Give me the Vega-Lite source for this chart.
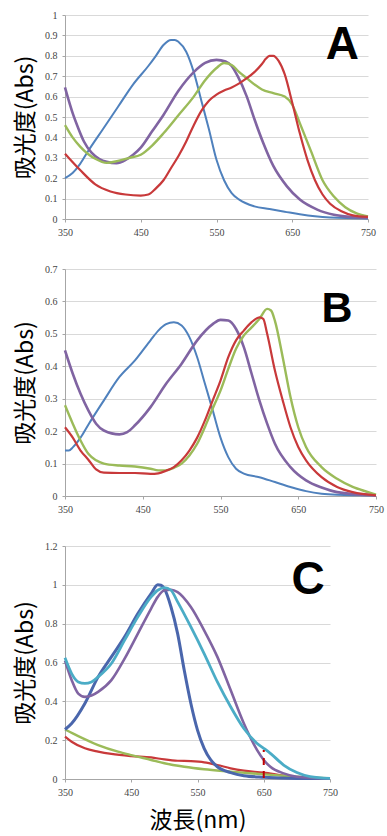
{
  "$schema": "https://vega.github.io/schema/vega-lite/v6.json",
  "background": "white",
  "padding": {"left": 14, "top": 10, "right": 5, "bottom": 5},
  "spacing": 50,
  "bounds": "flush",
  "config": {
    "view": {"stroke": null},
    "axis": {
      "domainColor": "#a6a6a6",
      "gridColor": "#d9d9d9",
      "tickColor": "#a6a6a6",
      "tickSize": 3,
      "labelPadding": 5,
      "labelFont": "Liberation Serif",
      "labelFontSize": 10,
      "labelColor": "#444444",
      "labelOverlap": false,
      "labelFlush": false,
      "titleFont": "Noto Sans CJK JP",
      "titleFontSize": 23,
      "titleFontWeight": "normal",
      "titleColor": "#000000"
    },
    "line": {"interpolate": "monotone"}
  },
  "datasets": {
    "a": [
      {"wl": 350, "abs": 0.2, "s": "blue"}, {"wl": 360, "abs": 0.225, "s": "blue"}, {"wl": 370, "abs": 0.27, "s": "blue"}, {"wl": 380, "abs": 0.33, "s": "blue"}, {"wl": 400, "abs": 0.44, "s": "blue"}, {"wl": 420, "abs": 0.55, "s": "blue"}, {"wl": 440, "abs": 0.66, "s": "blue"}, {"wl": 460, "abs": 0.75, "s": "blue"}, {"wl": 470, "abs": 0.8, "s": "blue"}, {"wl": 480, "abs": 0.853, "s": "blue"}, {"wl": 490, "abs": 0.878, "s": "blue"}, {"wl": 495, "abs": 0.878, "s": "blue"}, {"wl": 500, "abs": 0.868, "s": "blue"}, {"wl": 510, "abs": 0.82, "s": "blue"}, {"wl": 520, "abs": 0.72, "s": "blue"}, {"wl": 530, "abs": 0.58, "s": "blue"}, {"wl": 540, "abs": 0.44, "s": "blue"}, {"wl": 550, "abs": 0.29, "s": "blue"}, {"wl": 560, "abs": 0.19, "s": "blue"}, {"wl": 570, "abs": 0.127, "s": "blue"}, {"wl": 580, "abs": 0.095, "s": "blue"}, {"wl": 600, "abs": 0.062, "s": "blue"}, {"wl": 620, "abs": 0.049, "s": "blue"}, {"wl": 640, "abs": 0.036, "s": "blue"}, {"wl": 660, "abs": 0.023, "s": "blue"}, {"wl": 680, "abs": 0.013, "s": "blue"}, {"wl": 700, "abs": 0.007, "s": "blue"}, {"wl": 750, "abs": 0.002, "s": "blue"},
      {"wl": 350, "abs": 0.645, "s": "purple"}, {"wl": 355, "abs": 0.58, "s": "purple"}, {"wl": 360, "abs": 0.52, "s": "purple"}, {"wl": 367, "abs": 0.45, "s": "purple"}, {"wl": 375, "abs": 0.38, "s": "purple"}, {"wl": 385, "abs": 0.325, "s": "purple"}, {"wl": 395, "abs": 0.295, "s": "purple"}, {"wl": 405, "abs": 0.28, "s": "purple"}, {"wl": 418, "abs": 0.274, "s": "purple"}, {"wl": 430, "abs": 0.29, "s": "purple"}, {"wl": 440, "abs": 0.315, "s": "purple"}, {"wl": 450, "abs": 0.35, "s": "purple"}, {"wl": 465, "abs": 0.43, "s": "purple"}, {"wl": 480, "abs": 0.51, "s": "purple"}, {"wl": 500, "abs": 0.63, "s": "purple"}, {"wl": 520, "abs": 0.72, "s": "purple"}, {"wl": 535, "abs": 0.765, "s": "purple"}, {"wl": 550, "abs": 0.78, "s": "purple"}, {"wl": 562, "abs": 0.772, "s": "purple"}, {"wl": 570, "abs": 0.75, "s": "purple"}, {"wl": 578, "abs": 0.7, "s": "purple"}, {"wl": 590, "abs": 0.6, "s": "purple"}, {"wl": 600, "abs": 0.49, "s": "purple"}, {"wl": 612, "abs": 0.37, "s": "purple"}, {"wl": 625, "abs": 0.26, "s": "purple"}, {"wl": 643, "abs": 0.16, "s": "purple"}, {"wl": 660, "abs": 0.095, "s": "purple"}, {"wl": 683, "abs": 0.046, "s": "purple"}, {"wl": 705, "abs": 0.021, "s": "purple"}, {"wl": 727, "abs": 0.01, "s": "purple"}, {"wl": 750, "abs": 0.005, "s": "purple"},
      {"wl": 350, "abs": 0.46, "s": "green"}, {"wl": 360, "abs": 0.4, "s": "green"}, {"wl": 370, "abs": 0.355, "s": "green"}, {"wl": 380, "abs": 0.32, "s": "green"}, {"wl": 390, "abs": 0.295, "s": "green"}, {"wl": 405, "abs": 0.275, "s": "green"}, {"wl": 420, "abs": 0.285, "s": "green"}, {"wl": 435, "abs": 0.3, "s": "green"}, {"wl": 450, "abs": 0.315, "s": "green"}, {"wl": 465, "abs": 0.36, "s": "green"}, {"wl": 480, "abs": 0.42, "s": "green"}, {"wl": 500, "abs": 0.51, "s": "green"}, {"wl": 520, "abs": 0.6, "s": "green"}, {"wl": 535, "abs": 0.68, "s": "green"}, {"wl": 550, "abs": 0.74, "s": "green"}, {"wl": 560, "abs": 0.765, "s": "green"}, {"wl": 570, "abs": 0.755, "s": "green"}, {"wl": 580, "abs": 0.72, "s": "green"}, {"wl": 590, "abs": 0.69, "s": "green"}, {"wl": 600, "abs": 0.66, "s": "green"}, {"wl": 610, "abs": 0.635, "s": "green"}, {"wl": 625, "abs": 0.617, "s": "green"}, {"wl": 640, "abs": 0.6, "s": "green"}, {"wl": 650, "abs": 0.56, "s": "green"}, {"wl": 660, "abs": 0.47, "s": "green"}, {"wl": 675, "abs": 0.33, "s": "green"}, {"wl": 690, "abs": 0.19, "s": "green"}, {"wl": 705, "abs": 0.11, "s": "green"}, {"wl": 720, "abs": 0.058, "s": "green"}, {"wl": 735, "abs": 0.028, "s": "green"}, {"wl": 750, "abs": 0.013, "s": "green"},
      {"wl": 350, "abs": 0.32, "s": "red"}, {"wl": 370, "abs": 0.24, "s": "red"}, {"wl": 390, "abs": 0.17, "s": "red"}, {"wl": 410, "abs": 0.135, "s": "red"}, {"wl": 430, "abs": 0.12, "s": "red"}, {"wl": 450, "abs": 0.115, "s": "red"}, {"wl": 460, "abs": 0.12, "s": "red"}, {"wl": 470, "abs": 0.15, "s": "red"}, {"wl": 480, "abs": 0.19, "s": "red"}, {"wl": 490, "abs": 0.25, "s": "red"}, {"wl": 500, "abs": 0.31, "s": "red"}, {"wl": 510, "abs": 0.38, "s": "red"}, {"wl": 520, "abs": 0.46, "s": "red"}, {"wl": 530, "abs": 0.53, "s": "red"}, {"wl": 540, "abs": 0.58, "s": "red"}, {"wl": 550, "abs": 0.61, "s": "red"}, {"wl": 560, "abs": 0.63, "s": "red"}, {"wl": 570, "abs": 0.645, "s": "red"}, {"wl": 580, "abs": 0.665, "s": "red"}, {"wl": 590, "abs": 0.69, "s": "red"}, {"wl": 600, "abs": 0.72, "s": "red"}, {"wl": 610, "abs": 0.76, "s": "red"}, {"wl": 615, "abs": 0.785, "s": "red"}, {"wl": 620, "abs": 0.8, "s": "red"}, {"wl": 625, "abs": 0.8, "s": "red"}, {"wl": 632, "abs": 0.775, "s": "red"}, {"wl": 640, "abs": 0.71, "s": "red"}, {"wl": 650, "abs": 0.57, "s": "red"}, {"wl": 660, "abs": 0.42, "s": "red"}, {"wl": 670, "abs": 0.29, "s": "red"}, {"wl": 680, "abs": 0.19, "s": "red"}, {"wl": 690, "abs": 0.12, "s": "red"}, {"wl": 700, "abs": 0.075, "s": "red"}, {"wl": 715, "abs": 0.038, "s": "red"}, {"wl": 730, "abs": 0.018, "s": "red"}, {"wl": 750, "abs": 0.01, "s": "red"}
    ],
    "b": [
      {"wl": 350, "abs": 0.14, "s": "blue"}, {"wl": 355, "abs": 0.14, "s": "blue"}, {"wl": 360, "abs": 0.15, "s": "blue"}, {"wl": 370, "abs": 0.18, "s": "blue"}, {"wl": 380, "abs": 0.22, "s": "blue"}, {"wl": 400, "abs": 0.295, "s": "blue"}, {"wl": 420, "abs": 0.367, "s": "blue"}, {"wl": 440, "abs": 0.418, "s": "blue"}, {"wl": 460, "abs": 0.48, "s": "blue"}, {"wl": 470, "abs": 0.51, "s": "blue"}, {"wl": 480, "abs": 0.53, "s": "blue"}, {"wl": 490, "abs": 0.536, "s": "blue"}, {"wl": 500, "abs": 0.526, "s": "blue"}, {"wl": 510, "abs": 0.49, "s": "blue"}, {"wl": 520, "abs": 0.428, "s": "blue"}, {"wl": 530, "abs": 0.346, "s": "blue"}, {"wl": 540, "abs": 0.264, "s": "blue"}, {"wl": 550, "abs": 0.18, "s": "blue"}, {"wl": 560, "abs": 0.12, "s": "blue"}, {"wl": 570, "abs": 0.084, "s": "blue"}, {"wl": 580, "abs": 0.069, "s": "blue"}, {"wl": 600, "abs": 0.058, "s": "blue"}, {"wl": 620, "abs": 0.043, "s": "blue"}, {"wl": 640, "abs": 0.028, "s": "blue"}, {"wl": 660, "abs": 0.015, "s": "blue"}, {"wl": 680, "abs": 0.007, "s": "blue"}, {"wl": 700, "abs": 0.004, "s": "blue"}, {"wl": 750, "abs": 0.002, "s": "blue"},
      {"wl": 350, "abs": 0.449, "s": "purple"}, {"wl": 360, "abs": 0.377, "s": "purple"}, {"wl": 370, "abs": 0.315, "s": "purple"}, {"wl": 380, "abs": 0.264, "s": "purple"}, {"wl": 390, "abs": 0.223, "s": "purple"}, {"wl": 400, "abs": 0.202, "s": "purple"}, {"wl": 420, "abs": 0.19, "s": "purple"}, {"wl": 430, "abs": 0.197, "s": "purple"}, {"wl": 440, "abs": 0.218, "s": "purple"}, {"wl": 460, "abs": 0.274, "s": "purple"}, {"wl": 480, "abs": 0.346, "s": "purple"}, {"wl": 500, "abs": 0.408, "s": "purple"}, {"wl": 520, "abs": 0.48, "s": "purple"}, {"wl": 540, "abs": 0.53, "s": "purple"}, {"wl": 550, "abs": 0.543, "s": "purple"}, {"wl": 560, "abs": 0.541, "s": "purple"}, {"wl": 570, "abs": 0.515, "s": "purple"}, {"wl": 580, "abs": 0.459, "s": "purple"}, {"wl": 590, "abs": 0.377, "s": "purple"}, {"wl": 600, "abs": 0.295, "s": "purple"}, {"wl": 610, "abs": 0.223, "s": "purple"}, {"wl": 620, "abs": 0.161, "s": "purple"}, {"wl": 640, "abs": 0.089, "s": "purple"}, {"wl": 660, "abs": 0.048, "s": "purple"}, {"wl": 680, "abs": 0.026, "s": "purple"}, {"wl": 700, "abs": 0.012, "s": "purple"}, {"wl": 750, "abs": 0.002, "s": "purple"},
      {"wl": 350, "abs": 0.28, "s": "green"}, {"wl": 360, "abs": 0.223, "s": "green"}, {"wl": 370, "abs": 0.171, "s": "green"}, {"wl": 380, "abs": 0.13, "s": "green"}, {"wl": 390, "abs": 0.11, "s": "green"}, {"wl": 400, "abs": 0.1, "s": "green"}, {"wl": 420, "abs": 0.094, "s": "green"}, {"wl": 440, "abs": 0.091, "s": "green"}, {"wl": 460, "abs": 0.084, "s": "green"}, {"wl": 470, "abs": 0.079, "s": "green"}, {"wl": 480, "abs": 0.079, "s": "green"}, {"wl": 490, "abs": 0.087, "s": "green"}, {"wl": 500, "abs": 0.1, "s": "green"}, {"wl": 510, "abs": 0.125, "s": "green"}, {"wl": 520, "abs": 0.161, "s": "green"}, {"wl": 530, "abs": 0.213, "s": "green"}, {"wl": 540, "abs": 0.27, "s": "green"}, {"wl": 550, "abs": 0.325, "s": "green"}, {"wl": 560, "abs": 0.392, "s": "green"}, {"wl": 570, "abs": 0.454, "s": "green"}, {"wl": 580, "abs": 0.495, "s": "green"}, {"wl": 590, "abs": 0.52, "s": "green"}, {"wl": 600, "abs": 0.546, "s": "green"}, {"wl": 610, "abs": 0.577, "s": "green"}, {"wl": 615, "abs": 0.572, "s": "green"}, {"wl": 620, "abs": 0.54, "s": "green"}, {"wl": 630, "abs": 0.428, "s": "green"}, {"wl": 640, "abs": 0.305, "s": "green"}, {"wl": 650, "abs": 0.212, "s": "green"}, {"wl": 660, "abs": 0.151, "s": "green"}, {"wl": 680, "abs": 0.089, "s": "green"}, {"wl": 700, "abs": 0.053, "s": "green"}, {"wl": 720, "abs": 0.028, "s": "green"}, {"wl": 740, "abs": 0.012, "s": "green"}, {"wl": 750, "abs": 0.004, "s": "green"},
      {"wl": 350, "abs": 0.212, "s": "red"}, {"wl": 360, "abs": 0.18, "s": "red"}, {"wl": 370, "abs": 0.14, "s": "red"}, {"wl": 380, "abs": 0.112, "s": "red"}, {"wl": 390, "abs": 0.082, "s": "red"}, {"wl": 400, "abs": 0.072, "s": "red"}, {"wl": 420, "abs": 0.071, "s": "red"}, {"wl": 440, "abs": 0.071, "s": "red"}, {"wl": 460, "abs": 0.068, "s": "red"}, {"wl": 470, "abs": 0.07, "s": "red"}, {"wl": 480, "abs": 0.078, "s": "red"}, {"wl": 490, "abs": 0.089, "s": "red"}, {"wl": 500, "abs": 0.11, "s": "red"}, {"wl": 510, "abs": 0.14, "s": "red"}, {"wl": 520, "abs": 0.18, "s": "red"}, {"wl": 530, "abs": 0.233, "s": "red"}, {"wl": 540, "abs": 0.295, "s": "red"}, {"wl": 550, "abs": 0.356, "s": "red"}, {"wl": 560, "abs": 0.428, "s": "red"}, {"wl": 570, "abs": 0.48, "s": "red"}, {"wl": 580, "abs": 0.51, "s": "red"}, {"wl": 590, "abs": 0.536, "s": "red"}, {"wl": 600, "abs": 0.551, "s": "red"}, {"wl": 605, "abs": 0.546, "s": "red"}, {"wl": 610, "abs": 0.5, "s": "red"}, {"wl": 620, "abs": 0.387, "s": "red"}, {"wl": 630, "abs": 0.295, "s": "red"}, {"wl": 640, "abs": 0.212, "s": "red"}, {"wl": 650, "abs": 0.151, "s": "red"}, {"wl": 660, "abs": 0.11, "s": "red"}, {"wl": 680, "abs": 0.058, "s": "red"}, {"wl": 700, "abs": 0.028, "s": "red"}, {"wl": 720, "abs": 0.012, "s": "red"}, {"wl": 750, "abs": 0.002, "s": "red"}
    ],
    "c": [
      {"wl": 350, "abs": 0.218, "s": "red"}, {"wl": 360, "abs": 0.192, "s": "red"}, {"wl": 380, "abs": 0.158, "s": "red"}, {"wl": 400, "abs": 0.141, "s": "red"}, {"wl": 420, "abs": 0.129, "s": "red"}, {"wl": 450, "abs": 0.118, "s": "red"}, {"wl": 480, "abs": 0.111, "s": "red"}, {"wl": 500, "abs": 0.101, "s": "red"}, {"wl": 520, "abs": 0.094, "s": "red"}, {"wl": 540, "abs": 0.092, "s": "red"}, {"wl": 560, "abs": 0.086, "s": "red"}, {"wl": 580, "abs": 0.072, "s": "red"}, {"wl": 600, "abs": 0.055, "s": "red"}, {"wl": 620, "abs": 0.043, "s": "red"}, {"wl": 650, "abs": 0.033, "s": "red"}, {"wl": 680, "abs": 0.017, "s": "red"}, {"wl": 700, "abs": 0.009, "s": "red"}, {"wl": 750, "abs": 0.003, "s": "red"},
      {"wl": 350, "abs": 0.255, "s": "green"}, {"wl": 370, "abs": 0.221, "s": "green"}, {"wl": 400, "abs": 0.175, "s": "green"}, {"wl": 430, "abs": 0.141, "s": "green"}, {"wl": 450, "abs": 0.123, "s": "green"}, {"wl": 480, "abs": 0.098, "s": "green"}, {"wl": 500, "abs": 0.081, "s": "green"}, {"wl": 530, "abs": 0.063, "s": "green"}, {"wl": 560, "abs": 0.05, "s": "green"}, {"wl": 600, "abs": 0.038, "s": "green"}, {"wl": 650, "abs": 0.024, "s": "green"}, {"wl": 700, "abs": 0.012, "s": "green"}, {"wl": 750, "abs": 0.003, "s": "green"},
      {"wl": 350, "abs": 0.255, "s": "navy"}, {"wl": 360, "abs": 0.286, "s": "navy"}, {"wl": 380, "abs": 0.389, "s": "navy"}, {"wl": 400, "abs": 0.526, "s": "navy"}, {"wl": 420, "abs": 0.629, "s": "navy"}, {"wl": 440, "abs": 0.732, "s": "navy"}, {"wl": 460, "abs": 0.852, "s": "navy"}, {"wl": 480, "abs": 0.955, "s": "navy"}, {"wl": 490, "abs": 1.0, "s": "navy"}, {"wl": 495, "abs": 0.998, "s": "navy"}, {"wl": 500, "abs": 0.98, "s": "navy"}, {"wl": 510, "abs": 0.886, "s": "navy"}, {"wl": 520, "abs": 0.749, "s": "navy"}, {"wl": 530, "abs": 0.56, "s": "navy"}, {"wl": 540, "abs": 0.389, "s": "navy"}, {"wl": 550, "abs": 0.252, "s": "navy"}, {"wl": 560, "abs": 0.158, "s": "navy"}, {"wl": 570, "abs": 0.098, "s": "navy"}, {"wl": 580, "abs": 0.063, "s": "navy"}, {"wl": 600, "abs": 0.033, "s": "navy"}, {"wl": 620, "abs": 0.017, "s": "navy"}, {"wl": 650, "abs": 0.009, "s": "navy"}, {"wl": 700, "abs": 0.003, "s": "navy"}, {"wl": 750, "abs": 0.002, "s": "navy"},
      {"wl": 350, "abs": 0.61, "s": "purple"}, {"wl": 360, "abs": 0.51, "s": "purple"}, {"wl": 370, "abs": 0.44, "s": "purple"}, {"wl": 380, "abs": 0.423, "s": "purple"}, {"wl": 390, "abs": 0.43, "s": "purple"}, {"wl": 400, "abs": 0.449, "s": "purple"}, {"wl": 420, "abs": 0.509, "s": "purple"}, {"wl": 440, "abs": 0.62, "s": "purple"}, {"wl": 460, "abs": 0.749, "s": "purple"}, {"wl": 480, "abs": 0.878, "s": "purple"}, {"wl": 490, "abs": 0.938, "s": "purple"}, {"wl": 500, "abs": 0.972, "s": "purple"}, {"wl": 510, "abs": 0.975, "s": "purple"}, {"wl": 520, "abs": 0.963, "s": "purple"}, {"wl": 540, "abs": 0.886, "s": "purple"}, {"wl": 560, "abs": 0.766, "s": "purple"}, {"wl": 580, "abs": 0.629, "s": "purple"}, {"wl": 600, "abs": 0.458, "s": "purple"}, {"wl": 620, "abs": 0.286, "s": "purple"}, {"wl": 640, "abs": 0.149, "s": "purple"}, {"wl": 650, "abs": 0.098, "s": "purple"}, {"wl": 660, "abs": 0.063, "s": "purple"}, {"wl": 680, "abs": 0.029, "s": "purple"}, {"wl": 700, "abs": 0.012, "s": "purple"}, {"wl": 750, "abs": 0.003, "s": "purple"},
      {"wl": 350, "abs": 0.624, "s": "cyan"}, {"wl": 360, "abs": 0.543, "s": "cyan"}, {"wl": 370, "abs": 0.5, "s": "cyan"}, {"wl": 380, "abs": 0.492, "s": "cyan"}, {"wl": 390, "abs": 0.5, "s": "cyan"}, {"wl": 400, "abs": 0.526, "s": "cyan"}, {"wl": 420, "abs": 0.595, "s": "cyan"}, {"wl": 440, "abs": 0.715, "s": "cyan"}, {"wl": 460, "abs": 0.835, "s": "cyan"}, {"wl": 480, "abs": 0.938, "s": "cyan"}, {"wl": 490, "abs": 0.972, "s": "cyan"}, {"wl": 500, "abs": 0.986, "s": "cyan"}, {"wl": 510, "abs": 0.972, "s": "cyan"}, {"wl": 520, "abs": 0.912, "s": "cyan"}, {"wl": 540, "abs": 0.783, "s": "cyan"}, {"wl": 560, "abs": 0.646, "s": "cyan"}, {"wl": 580, "abs": 0.5, "s": "cyan"}, {"wl": 600, "abs": 0.372, "s": "cyan"}, {"wl": 620, "abs": 0.26, "s": "cyan"}, {"wl": 640, "abs": 0.183, "s": "cyan"}, {"wl": 650, "abs": 0.158, "s": "cyan"}, {"wl": 660, "abs": 0.132, "s": "cyan"}, {"wl": 680, "abs": 0.072, "s": "cyan"}, {"wl": 700, "abs": 0.033, "s": "cyan"}, {"wl": 720, "abs": 0.012, "s": "cyan"}, {"wl": 750, "abs": 0.003, "s": "cyan"}
    ],
    "marker": [{"wl": 650, "abs": 0.005, "hi": 0.15}]
  },
  "vconcat": [
    {
      "width": 303,
      "height": 204,
      "encoding": {
        "x": {"field": "wl", "type": "quantitative", "scale": {"domain": [350, 750], "nice": false, "zero": false}, "axis": {"title": null, "grid": false, "values": [350, 450, 550, 650, 750]}},
        "y": {"field": "abs", "type": "quantitative", "scale": {"domain": [0, 1], "nice": false}, "axis": {"title": "吸光度(Abs)", "values": [0, 0.1, 0.2, 0.3, 0.4, 0.5, 0.6, 0.7, 0.8, 0.9, 1], "format": ".1~f", "titlePadding": 7}}
      },
      "layer": [
        {
          "data": {"name": "a"},
          "mark": {"type": "line"},
          "encoding": {
            "color": {"field": "s", "type": "nominal", "legend": null, "scale": {"domain": ["blue", "red", "green", "purple", "cyan", "navy"], "range": ["#4F81BD", "#C8393A", "#9BBB59", "#8064A2", "#4BACC6", "#4A66AC"]}},
            "strokeWidth": {"field": "s", "type": "nominal", "legend": null, "scale": {"domain": ["blue", "red", "green", "purple", "cyan", "navy"], "range": [2, 3, 2, 2, 2, 2]}}
          }
        },
        {
          "data": {"values": [{"wl": 716, "abs": 0.853, "t": "A"}]},
          "mark": {"type": "text", "font": "Liberation Sans", "fontWeight": "bold", "fontSize": 46, "baseline": "middle", "align": "center", "color": "#000000"},
          "encoding": {"text": {"field": "t"}}
        }
      ]
    },
    {
      "width": 311,
      "height": 227,
      "encoding": {
        "x": {"field": "wl", "type": "quantitative", "scale": {"domain": [350, 750], "nice": false, "zero": false}, "axis": {"title": null, "grid": false, "values": [350, 450, 550, 650, 750]}},
        "y": {"field": "abs", "type": "quantitative", "scale": {"domain": [0, 0.7], "nice": false}, "axis": {"title": "吸光度(Abs)", "values": [0, 0.1, 0.2, 0.3, 0.4, 0.5, 0.6, 0.7], "format": ".1~f", "titlePadding": 7}}
      },
      "layer": [
        {
          "data": {"name": "b"},
          "mark": {"type": "line"},
          "encoding": {
            "color": {"field": "s", "type": "nominal", "legend": null, "scale": {"domain": ["blue", "red", "green", "purple", "cyan", "navy"], "range": ["#4F81BD", "#C8393A", "#9BBB59", "#8064A2", "#4BACC6", "#4A66AC"]}},
            "strokeWidth": {"field": "s", "type": "nominal", "legend": null, "scale": {"domain": ["blue", "red", "green", "purple", "cyan", "navy"], "range": [2, 3, 2, 2, 2, 2]}}
          }
        },
        {
          "data": {"values": [{"wl": 700, "abs": 0.577, "t": "B"}]},
          "mark": {"type": "text", "font": "Liberation Sans", "fontWeight": "bold", "fontSize": 43, "baseline": "middle", "align": "center", "color": "#000000"},
          "encoding": {"text": {"field": "t"}}
        }
      ]
    },
    {
      "width": 265,
      "height": 233,
      "encoding": {
        "x": {"field": "wl", "type": "quantitative", "scale": {"domain": [350, 750], "nice": false, "zero": false}, "axis": {"title": "波長(nm)", "titlePadding": 12, "grid": false, "values": [350, 450, 550, 650, 750]}},
        "y": {"field": "abs", "type": "quantitative", "scale": {"domain": [0, 1.2], "nice": false}, "axis": {"title": "吸光度(Abs)", "values": [0, 0.2, 0.4, 0.6, 0.8, 1, 1.2], "format": ".1~f", "titlePadding": 7}}
      },
      "layer": [
        {
          "data": {"name": "c"},
          "mark": {"type": "line"},
          "encoding": {
            "color": {"field": "s", "type": "nominal", "legend": null, "scale": {"domain": ["blue", "red", "green", "purple", "cyan", "navy"], "range": ["#4F81BD", "#C8393A", "#9BBB59", "#8064A2", "#4BACC6", "#4A66AC"]}},
            "strokeWidth": {"field": "s", "type": "nominal", "legend": null, "scale": {"domain": ["blue", "red", "green", "purple", "cyan", "navy"], "range": [2, 3, 2, 2, 2, 2]}}
          }
        },
        {
          "data": {"name": "marker"},
          "mark": {"type": "rule", "color": "#C00000", "strokeWidth": 2, "strokeDash": [7, 6]},
          "encoding": {"y2": {"field": "hi"}}
        },
        {
          "data": {"values": [{"wl": 717, "abs": 1.025, "t": "C"}]},
          "mark": {"type": "text", "font": "Liberation Sans", "fontWeight": "bold", "fontSize": 46, "baseline": "middle", "align": "center", "color": "#000000"},
          "encoding": {"text": {"field": "t"}}
        }
      ]
    }
  ]
}
